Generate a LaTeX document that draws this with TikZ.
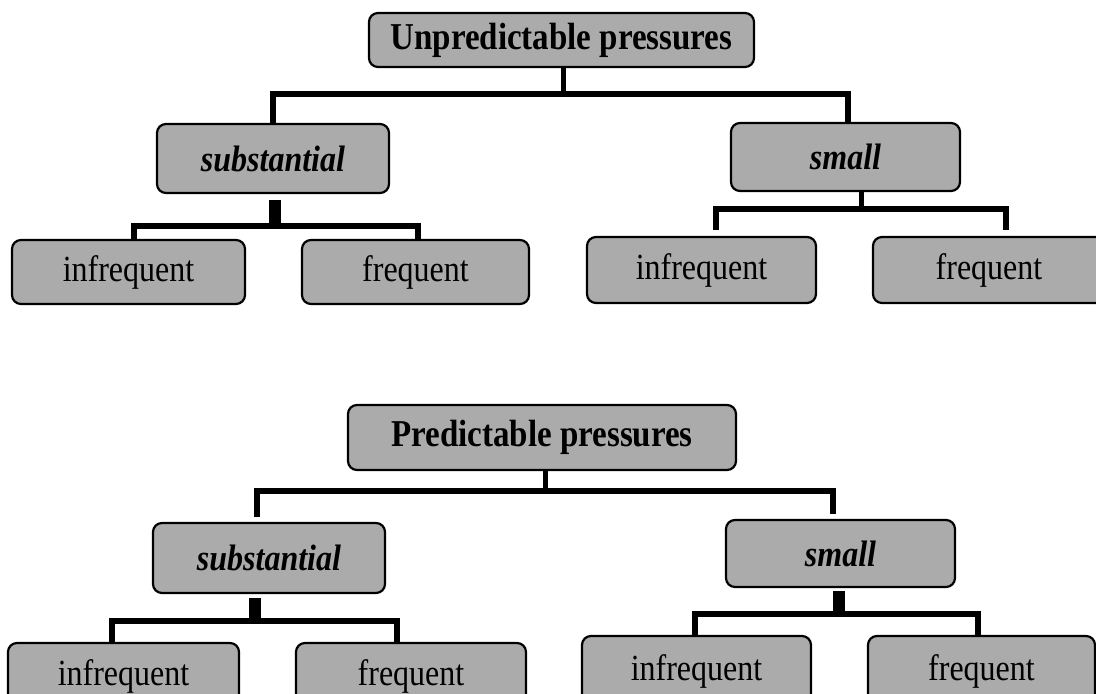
\documentclass[tikz,border=0pt]{standalone}
\usepackage{fontspec}
\setmainfont{Liberation Serif}
\usetikzlibrary{calc}
\newcommand{\vstretch}[1]{\scalebox{1}[1.15]{#1}}
\begin{document}
\begin{tikzpicture}[x=1pt,y=-1pt,
  box/.style={draw=black, line width=2.2pt, fill=black!33, rounded corners=9pt,
    inner sep=0pt, font=\fontsize{32}{36}\selectfont},
  rootbox/.style={box, font=\fontsize{33}{38}\selectfont\bfseries},
  midbox/.style={box, font=\fontsize{32}{36}\selectfont\bfseries\itshape},
  conn/.style={line width=6.5pt, line join=miter},
  stub/.style={line width=5pt},
  block/.style={line width=12pt}]
\useasboundingbox (0,0) rectangle (1096,694);
\clip (0,0) rectangle (1096,694);

% ---------- top tree ----------
\node[rootbox, minimum width=385pt, minimum height=54pt] (R1) at (561.5,40) {\vstretch{Unpredictable pressures}};
\node[midbox, minimum width=232pt, minimum height=69pt] (S1) at (273,158.5) {\vstretch{substantial}};
\node[midbox, minimum width=229pt, minimum height=68pt] (M1) at (845.5,157) {\vstretch{small}};
\node[box, minimum width=233pt, minimum height=64pt] (A1) at (128.5,272) {\vstretch{infrequent}};
\node[box, minimum width=227pt, minimum height=64pt] (B1) at (415.5,272) {\vstretch{frequent}};
\node[box, minimum width=229pt, minimum height=66pt] (C1) at (701.5,270) {\vstretch{infrequent}};
\node[box, minimum width=232pt, minimum height=66pt] (D1) at (989,270) {\vstretch{frequent}};

\draw[conn] (S1.north) -- ++(0,-29) coordinate (t1) -| ($(M1.north)+(2.5,0)$);
\coordinate (r1s) at ($(R1.south)+(1.5,0)$);
\draw[stub] (r1s) -- (r1s |- t1);

\draw[conn] ($(A1.north)+(5.5,0)$) -- ++(0,-13) coordinate (t2) -| ($(B1.north)+(2.5,0)$);
\coordinate (s1s) at ($(S1.south)+(2,0)$);
\draw[block, shorten <=6pt] (s1s) -- (s1s |- t2);

\draw[conn, shorten <=6pt, shorten >=6pt] ($(C1.north)+(14.5,0)$) -- ++(0,-27) coordinate (t3) -| ($(D1.north)+(17,0)$);
\coordinate (m1s) at ($(M1.south)+(15.5,0)$);
\draw[stub] (m1s) -- (m1s |- t3);

% ---------- bottom tree ----------
\node[rootbox, minimum width=388pt, minimum height=65pt] (R2) at (542,437.5) {\vstretch{Predictable pressures}};
\node[midbox, minimum width=232pt, minimum height=70pt] (S2) at (269,558) {\vstretch{substantial}};
\node[midbox, minimum width=229pt, minimum height=67pt] (M2) at (840.5,553.5) {\vstretch{small}};
\node[box, minimum width=231pt, minimum height=66pt] (A2) at (123.5,676) {\vstretch{infrequent}};
\node[box, minimum width=230pt, minimum height=66pt] (B2) at (411,676) {\vstretch{frequent}};
\node[box, minimum width=229pt, minimum height=70pt] (C2) at (696.5,671) {\vstretch{infrequent}};
\node[box, minimum width=227pt, minimum height=70pt] (D2) at (981.5,671) {\vstretch{frequent}};

\draw[conn, shorten <=5pt, shorten >=5pt] ($(S2.north)+(-12,0)$) -- ++(0,-31) coordinate (t4) -| ($(M2.north)+(-7.5,0)$);
\coordinate (r2s) at ($(R2.south)+(3,0)$);
\draw[stub] (r2s) -- (r2s |- t4);

\draw[conn] ($(A2.north)+(-11.5,0)$) -- ++(0,-21) coordinate (t5) -| ($(B2.north)+(-14,0)$);
\coordinate (s2s) at ($(S2.south)+(-14,0)$);
\draw[block, shorten <=4pt] (s2s) -- (s2s |- t5);

\draw[conn] ($(C2.north)+(-1.5,0)$) -- ++(0,-21) coordinate (t6) -| ($(D2.north)+(-3.5,0)$);
\coordinate (m2s) at ($(M2.south)+(-1.5,0)$);
\draw[block, shorten <=3pt] (m2s) -- (m2s |- t6);
\end{tikzpicture}
\end{document}
